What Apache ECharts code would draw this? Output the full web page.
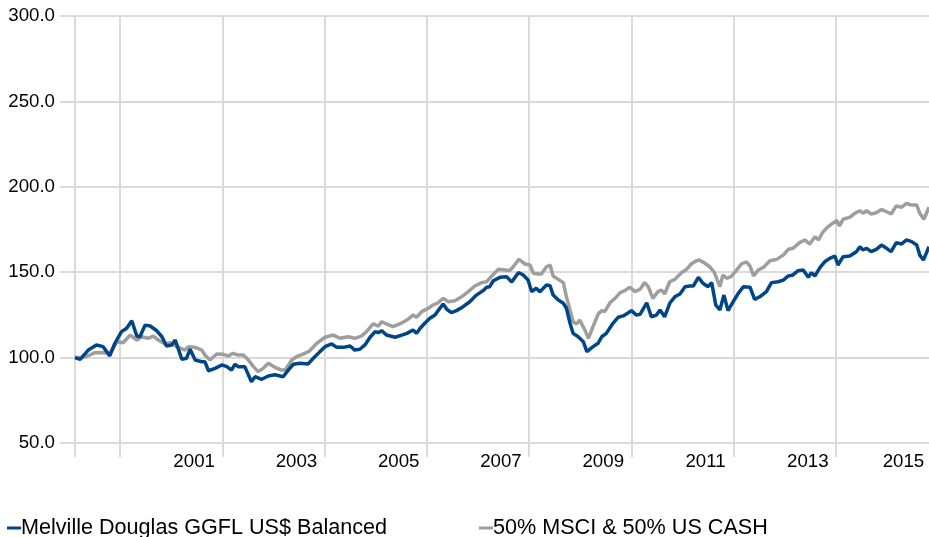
<!DOCTYPE html>
<html lang="en">
<head>
    <meta charset="UTF-8">
    <title>Melville Douglas GGFL US$ Balanced vs benchmark</title>
    <script src="https://fastly.jsdelivr.net/npm/echarts@6.0.0/dist/echarts.min.js"></script>
    <style>
        html, body { margin: 0; padding: 0; background: #fff; }
    </style>
</head>
<body>
<div id="main" style="width: 929px; height: 537px;"></div>
<script>
    // dates as decimal years, values indexed to 100 at start
    var mdYears = [1999.12,1999.22,1999.38,1999.54,1999.67,1999.80,1999.90,2000.03,2000.13,2000.23,2000.33,2000.39,2000.49,2000.59,2000.72,2000.82,2000.91,2001.01,2001.08,2001.21,2001.30,2001.37,2001.47,2001.60,2001.66,2001.73,2001.86,2001.99,2002.09,2002.18,2002.25,2002.31,2002.44,2002.57,2002.64,2002.77,2002.90,2003.03,2003.19,2003.29,2003.39,2003.52,2003.68,2003.78,2003.91,2004.01,2004.14,2004.24,2004.37,2004.50,2004.59,2004.69,2004.79,2004.89,2004.99,2005.05,2005.12,2005.21,2005.38,2005.51,2005.61,2005.73,2005.80,2005.87,2005.96,2006.06,2006.16,2006.22,2006.32,2006.39,2006.48,2006.58,2006.71,2006.84,2006.97,2007.10,2007.17,2007.23,2007.30,2007.43,2007.56,2007.66,2007.79,2007.88,2007.98,2008.05,2008.14,2008.21,2008.34,2008.41,2008.47,2008.57,2008.67,2008.73,2008.80,2008.86,2008.96,2009.06,2009.13,2009.25,2009.35,2009.42,2009.51,2009.64,2009.74,2009.84,2009.94,2010.00,2010.10,2010.17,2010.30,2010.39,2010.49,2010.56,2010.65,2010.75,2010.85,2010.95,2011.05,2011.14,2011.21,2011.31,2011.40,2011.50,2011.57,2011.65,2011.73,2011.81,2011.89,2011.99,2012.09,2012.19,2012.32,2012.41,2012.51,2012.64,2012.74,2012.87,2012.97,2013.07,2013.16,2013.26,2013.36,2013.46,2013.52,2013.59,2013.69,2013.78,2013.88,2013.98,2014.04,2014.14,2014.27,2014.40,2014.47,2014.53,2014.60,2014.69,2014.79,2014.89,2014.99,2015.08,2015.18,2015.28,2015.38,2015.48,2015.58,2015.64,2015.71,2015.82];
    var mdValues = [100,99,104.4,107.4,106.4,101,108.4,115.2,117.2,121.6,112.6,112.2,119,118.5,115.7,112.2,106.8,107.4,110.3,99,99.6,104.9,98.6,97.6,97.6,92.3,93.7,95.7,94.7,92.7,96.1,94.7,94.7,85.9,88.8,87.3,89.2,90,88.8,92.7,96.1,96.7,96.3,99.6,103.5,106.4,108,106,106,106.8,104.4,104.9,107.4,111.9,115.2,114.6,115.7,113.2,111.9,113.2,114.2,116.2,114.2,117.2,120.1,123,124.9,127.5,131.4,128.3,126.3,127.5,129.8,132.7,136.6,139.2,141.2,141.5,145,147,147.4,144.2,149.7,148.5,145.4,138.6,140.6,138.6,142.5,142.1,136.6,133.7,131.8,128.9,120.1,114.2,112.2,109.3,103.5,106.4,108.4,112.2,114.2,120.1,123.6,124.4,126.3,127.5,124.9,125.3,132.1,123.9,124.9,127.9,123.9,131.8,135.6,137.2,141.5,141.9,141.9,147,143.5,141.5,143.9,130.8,127.9,136.6,127.5,132.7,137.6,141.5,141.2,134.1,135.6,138.6,143.9,144.4,145.4,147.8,148.4,150.9,151.3,147,149.7,147.8,152.8,156.1,158.1,159.5,154.2,159.1,159.5,162,164.9,163,164,162,163.4,165.9,164,162,167.3,166.5,168.9,167.9,165.9,160,157.1,164.9];

    var bmYears = [1999.12,1999.28,1999.41,1999.51,1999.67,1999.80,1999.94,2000.06,2000.20,2000.33,2000.42,2000.55,2000.65,2000.75,2000.88,2000.98,2001.11,2001.27,2001.34,2001.47,2001.60,2001.66,2001.76,2001.89,2002.02,2002.12,2002.21,2002.31,2002.41,2002.51,2002.61,2002.70,2002.80,2002.90,2003.03,2003.16,2003.23,2003.36,2003.45,2003.58,2003.70,2003.85,2004.01,2004.17,2004.30,2004.46,2004.59,2004.72,2004.82,2004.95,2005.05,2005.12,2005.21,2005.34,2005.47,2005.61,2005.73,2005.80,2005.90,2006.03,2006.12,2006.22,2006.32,2006.42,2006.55,2006.68,2006.81,2006.94,2007.07,2007.17,2007.27,2007.40,2007.53,2007.62,2007.69,2007.80,2007.92,2008.02,2008.08,2008.18,2008.24,2008.34,2008.41,2008.47,2008.57,2008.67,2008.73,2008.80,2008.86,2008.93,2008.99,2009.09,2009.16,2009.25,2009.35,2009.42,2009.48,2009.58,2009.68,2009.78,2009.87,2009.97,2010.07,2010.17,2010.26,2010.33,2010.42,2010.52,2010.59,2010.65,2010.75,2010.85,2010.98,2011.08,2011.17,2011.27,2011.33,2011.43,2011.52,2011.62,2011.73,2011.79,2011.86,2011.95,2012.05,2012.15,2012.25,2012.32,2012.39,2012.48,2012.58,2012.71,2012.84,2012.97,2013.07,2013.16,2013.29,2013.39,2013.49,2013.59,2013.66,2013.75,2013.85,2013.95,2014.02,2014.07,2014.14,2014.27,2014.37,2014.47,2014.53,2014.60,2014.69,2014.79,2014.89,2014.99,2015.08,2015.18,2015.28,2015.38,2015.48,2015.58,2015.64,2015.72,2015.82];
    var bmValues = [100,100,101.5,102.9,102.9,102.5,109.3,108.7,113.2,110.3,112.2,111.3,112.6,110.3,108,108.7,106.4,104.4,106.4,106,104.4,101.5,98.6,102.1,101.9,100.9,102.5,101.5,101.5,98.6,94.7,91.8,93.7,96.7,94.3,92.7,92.7,98.6,100.5,102,103.7,108.4,111.9,113.2,111.3,112.2,111.3,112.6,115.2,119.7,118.5,121,119.7,118.1,119.7,122,124.9,123.6,126.9,128.9,130.8,132.1,134.7,132.7,133.3,135.6,138.6,141.9,143.9,144.4,147.8,151.7,151.3,151,153.2,157.5,154.8,154.2,149.4,149,149,153.2,154.2,147.8,145.8,143.9,135.6,127.9,121,119.7,122,116.2,111.3,118.1,125.5,127.5,126.9,132.1,134.7,138,139.2,141.2,138.6,140,143.9,141.5,134.7,138.6,139.6,137.2,144.4,145.8,149.7,151.7,154.8,156.7,157.1,155.4,153.5,150,141.5,148.4,146.4,147.4,150.9,154.8,156.1,153.6,147.8,151.3,152.8,156.7,157.5,160,163.4,164,167.3,168.9,166.5,170.8,168.9,173.7,176.7,179,180.2,177.1,181,182.1,184.5,186,184.5,186,184.1,184.8,186.8,185.4,184.1,188.8,188,190.3,189.3,189.3,184.5,181,188];

    // gridlines every two years, labels sit in the middle of odd years
    var gridYears = [1999.12, 2000, 2002, 2004, 2006, 2008, 2010, 2012, 2014];
    var labelYears = [2001.45, 2003.45, 2005.45, 2007.45, 2009.45, 2011.45, 2013.45, 2015.32];

    var seriesNames = ['Melville Douglas GGFL US$ Balanced', '50% MSCI & 50% US CASH'];
    var seriesColors = ['#004586', '#9e9e9e'];

    function pairs(xs, ys) {
        return xs.map(function (x, i) { return [x, ys[i]]; });
    }

    var font = "'Liberation Sans', Arial, sans-serif";
    var gridColor = '#dadada';

    function legendFor(name, left) {
        return {
            data: [name],
            left: left, top: 512,
            icon: 'rect', itemWidth: 14, itemHeight: 3,
            textStyle: { fontSize: 21.6, color: '#000', fontFamily: font, padding: [0, 0, 0, -5] }
        };
    }

    var myChart = echarts.init(document.getElementById('main'));
    var option = {
        animation: false,
        textStyle: { fontFamily: font },
        grid: { left: 75, right: 0, top: 16, bottom: 94 },
        legend: [legendFor(seriesNames[0], 2), legendFor(seriesNames[1], 474)],
        xAxis: {
            type: 'value',
            min: gridYears[0],
            max: 2015.82,
            axisLine: { show: true, lineStyle: { color: gridColor, width: 2 } },
            axisTick: { show: true, length: 14, customValues: gridYears, lineStyle: { color: gridColor, width: 2 } },
            splitLine: { show: true, lineStyle: { color: gridColor, width: 2 } },
            axisLabel: {
                customValues: labelYears,
                margin: 9,
                fontSize: 18.7,
                color: '#000',
                formatter: function (v) { return String(Math.floor(v)); }
            }
        },
        yAxis: {
            type: 'value',
            min: 50, max: 300, interval: 50,
            axisLine: { show: true, lineStyle: { color: gridColor, width: 2 } },
            axisTick: { show: true, length: 15, lineStyle: { color: gridColor, width: 2 } },
            splitLine: { show: true, lineStyle: { color: gridColor, width: 2 } },
            axisLabel: {
                margin: 20,
                fontSize: 18.7,
                color: '#000',
                formatter: function (v) { return v.toFixed(1); }
            }
        },
        series: [
            {
                name: seriesNames[1],
                type: 'line',
                data: pairs(bmYears, bmValues),
                showSymbol: false,
                color: seriesColors[1],
                lineStyle: { width: 3.5, color: seriesColors[1] },
                z: 2
            },
            {
                name: seriesNames[0],
                type: 'line',
                data: pairs(mdYears, mdValues),
                showSymbol: false,
                color: seriesColors[0],
                lineStyle: { width: 3.5, color: seriesColors[0] },
                z: 3
            }
        ]
    };
    myChart.setOption(option);
</script>
</body>
</html>
